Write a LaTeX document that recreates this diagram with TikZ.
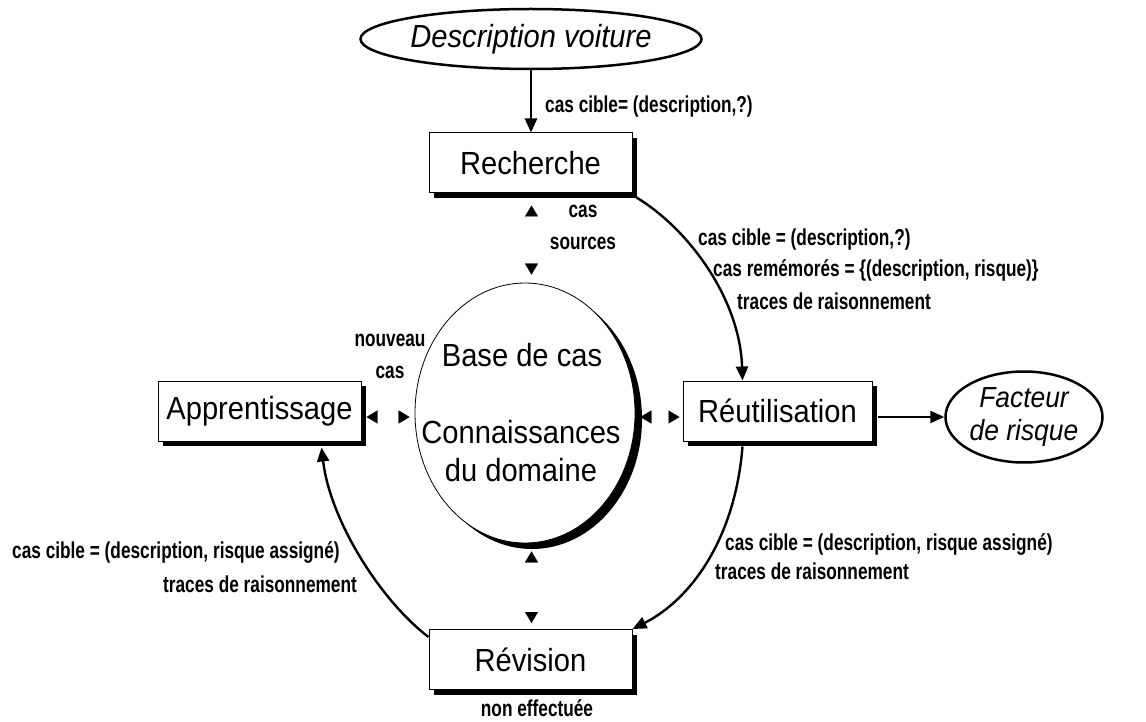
\documentclass[tikz,border=0pt]{standalone}
\usepackage{fontspec}
\setmainfont{Liberation Sans}
\newfontfamily\boxf[FakeStretch=0.91]{Liberation Sans}
\newfontfamily\lblf[FakeStretch=0.75]{Liberation Sans}
\usetikzlibrary{shapes.geometric,arrows.meta,shadows}
\begin{document}
\begin{tikzpicture}[x=1pt,y=-1pt,
  boxn/.style={draw,line width=1pt,fill=white,minimum width=203pt,minimum height=60pt,inner sep=0pt,
    font=\boxf\fontsize{32}{38}\selectfont,
    drop shadow={shadow xshift=5pt,shadow yshift=-5pt,fill=black,opacity=1}},
  ovaln/.style={draw,ellipse,line width=2.5pt,fill=white,inner sep=0pt,
    font=\boxf\itshape\fontsize{32}{38}\selectfont},
  bigtxt/.style={font=\boxf\fontsize{32}{38}\selectfont,inner sep=0pt,align=center},
  lbl/.style={font=\lblf\bfseries\fontsize{23}{32}\selectfont,inner sep=0pt},
  arr/.style={line width=2.4pt,-{Triangle[length=14pt,width=12pt]}},
  dbl/.style={white,line width=0.2pt,
    {Triangle[color=black,fill=black,length=11pt,width=13pt]}-{Triangle[color=black,fill=black,length=11pt,width=13pt]}}
]
\useasboundingbox[fill=white] (0,0) rectangle (1146,722);

% nodes
\node[ovaln,minimum width=308pt,minimum height=60pt] (desc) at (531,39) {Description voiture};
\node[boxn] (rech) at (530.5,163) {Recherche};
\node[draw,ellipse,line width=0.8pt,fill=white,minimum width=220pt,minimum height=260pt,
  drop shadow={shadow xshift=7pt,shadow yshift=-6pt,fill=black,opacity=1}] (base) at (525,413) {};
\node[bigtxt] (bt1) at (522,355) {Base de cas};
\node[bigtxt] (bt2) at (521,451) {Connaissances\\du domaine};
\node[boxn] (appr) at (259.5,411) {Apprentissage};
\node[boxn,minimum width=189pt] (reut) at (777.5,411) {Réutilisation};
\node[ovaln,minimum width=157pt,minimum height=91pt,align=center,
  font=\boxf\itshape\fontsize{29}{33}\selectfont] (fact) at (1024,417) {Facteur\\de risque};
\node[boxn] (rev) at (530.5,659.5) {Révision};

% labels
\node[lbl,anchor=west] (l0) at (545,107) {cas cible= (description,?)};
\node[lbl,align=center] (lcs) at (583,227) {cas\\sources};
\node[lbl,align=center] (lnc) at (390,356) {nouveau\\cas};
\node[lbl,anchor=west] (lr1) at (698,240) {cas cible = (description,?)};
\node[lbl,anchor=west] (lr2) at (713,270) {cas remémorés = \{(description, risque)\}};
\node[lbl,anchor=west] (lr3) at (737,301) {traces de raisonnement};
\node[lbl,anchor=west] (lb1) at (725,544) {cas cible = (description, risque assigné)};
\node[lbl,anchor=west] (lb2) at (715,571) {traces de raisonnement};
\node[lbl,anchor=west] (ll1) at (12,552) {cas cible = (description, risque assigné)};
\node[lbl,anchor=west] (ll2) at (163,584) {traces de raisonnement};
\node[lbl] (lne) at (537,708) {non effectuée};

% connectors
\draw[arr,line width=2.8pt] (desc.south) -- (desc.south |- rech.north);
\draw[arr] ([xshift=4pt,yshift=-4pt]rech.south east) .. controls (690,230) and (740,300) .. ([xshift=60pt]reut.north west);
\draw[arr] ([xshift=60pt,yshift=-5pt]reut.south west) .. controls (735,540) and (690,600) .. (rev.north east);
\draw[arr] ([yshift=-8pt]rev.north west) .. controls (380,600) and (330,520) .. ([xshift=-40pt,yshift=-6pt]appr.south east);
\coordinate (rf) at (reut.east |- fact.west);
\draw[arr] ([xshift=5pt]rf) -- (fact.west);

% double exchanges with the case base
\path (rech.south) ++(1,12) coordinate (tA);
\path (tA |- base.north) ++(0,-8) coordinate (tB);
\draw[dbl] (tA) -- (tB);
\path (rev.north) ++(1,-6) coordinate (bB);
\path (bB |- base.south) ++(0,8) coordinate (bA);
\draw[dbl] (bA) -- (bB);
\path (appr.east) ++(5,6) coordinate (lA);
\path (lA -| base.west) ++(-5,0) coordinate (lB);
\draw[dbl] (lA) -- (lB);
\path (reut.west) ++(-3,6) coordinate (rB);
\path (rB -| base.east) ++(5,0) coordinate (rA);
\draw[dbl] (rA) -- (rB);
\end{tikzpicture}
\end{document}
